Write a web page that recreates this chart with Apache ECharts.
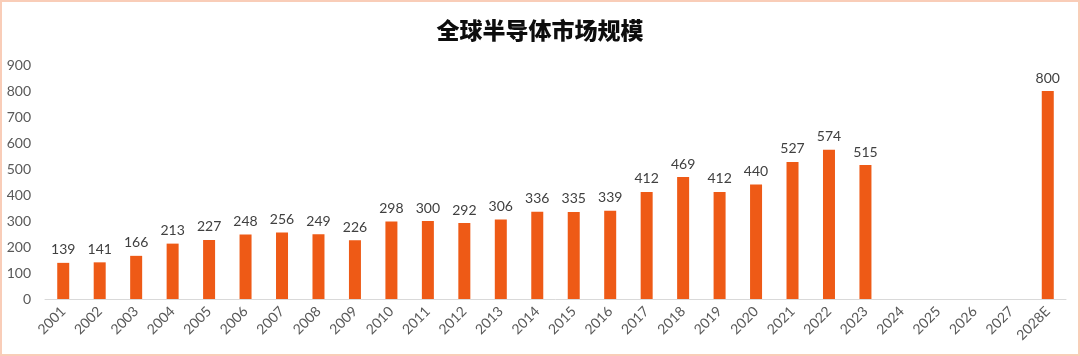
<!DOCTYPE html>
<html><head><meta charset="utf-8">
<script src="https://cdn.jsdelivr.net/npm/echarts@6/dist/echarts.min.js"></script>
<style>html,body{margin:0;padding:0;background:#fff}#c{width:1080px;height:356px}</style>
</head><body><div id="c"></div>
<script>
const title = '全球半导体市场规模';
const categories = ['2001','2002','2003','2004','2005','2006','2007','2008','2009','2010','2011','2012','2013','2014','2015','2016','2017','2018','2019','2020','2021','2022','2023','2024','2025','2026','2027','2028E'];
const values = [139,141,166,213,227,248,256,249,226,298,300,292,306,336,335,339,412,469,412,440,527,574,515,null,null,null,null,800];
const yMin = 0, yMax = 900, yStep = 100;

const chart = echarts.init(document.getElementById('c'));
chart.setOption({
  animation: false,
  backgroundColor: '#fff',
  title: {
    text: title, left: 'center', top: 14,
    textStyle: {fontFamily: 'Noto Sans CJK SC', fontWeight: 900, fontSize: 23, color: '#0d0d0d'}
  },
  graphic: [{type: 'rect', shape: {x: 1, y: 1, width: 1078, height: 354},
    style: {fill: 'none', stroke: '#F9CDB8', lineWidth: 2}, silent: true}],
  grid: {left: 45, right: 14, top: 65, bottom: 57, containLabel: false},
  xAxis: {
    type: 'category', data: categories,
    axisLine: {lineStyle: {color: '#D9D9D9'}},
    axisTick: {show: false},
    axisLabel: {rotate: 45, color: '#595959', fontSize: 14, fontFamily: 'Lato', margin: 10, interval: 0}
  },
  yAxis: {
    type: 'value', min: yMin, max: yMax, interval: yStep,
    splitLine: {show: false},
    axisLine: {show: false}, axisTick: {show: false},
    axisLabel: {color: '#595959', fontSize: 14, fontFamily: 'Lato', margin: 14}
  },
  series: [{
    type: 'bar', data: values, barWidth: 12,
    itemStyle: {color: '#EE5A16'},
    label: {show: true, position: 'top', distance: 6, color: '#404040', fontSize: 14, fontFamily: 'Lato'}
  }]
});
</script></body></html>
